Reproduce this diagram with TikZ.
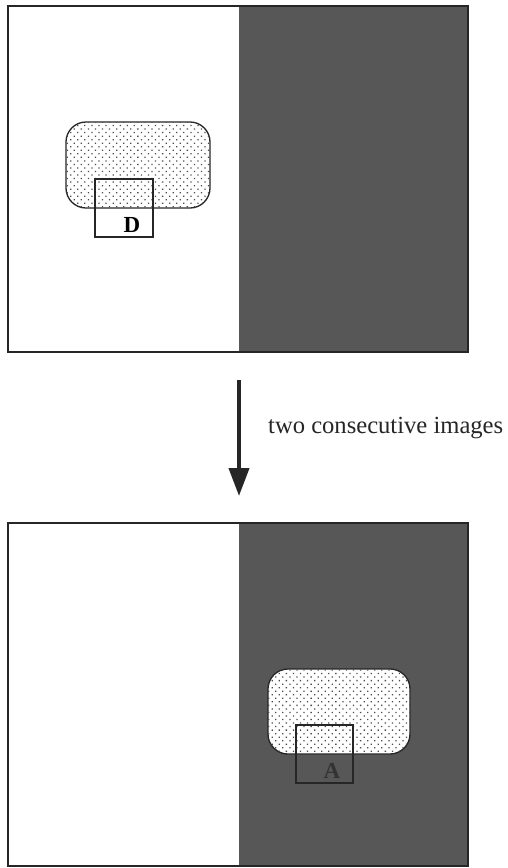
\documentclass[tikz,border=0pt]{standalone}
\usepackage{fontspec}
\setmainfont{Liberation Serif}
\usetikzlibrary{arrows.meta,patterns.meta}
\begin{document}
\begin{tikzpicture}[x=1pt,y=-1pt,
  frame/.style={draw=black!85,line width=1.4pt},
  darkhalf/.style={fill=black!66},
  blob/.style={draw=black!85,line width=1.3pt,rounded corners=20pt,fill=white,
    postaction={pattern={Dots[distance=5pt,angle=45,radius=0.9pt]},pattern color=black!70}},
  window/.style={draw=black!85,line width=1.2pt},
  lbl/.style={font=\fontsize{23}{26}\selectfont\bfseries}]
\useasboundingbox (0,0) rectangle (508,868);
\fill[white] (0,0) rectangle (508,868);

% first image: target in the bright half
\fill[darkhalf] (239,6) rectangle (468,352);
\draw[frame] (8,6) rectangle (468,352);
\draw[blob] (66,122) rectangle (210,208);
\draw[window] (95,179) rectangle (153,237);
\node[lbl,anchor=base] (d) at (132,232) {D};

% transition arrow with caption
\coordinate (atop) at (239,380);
\coordinate (abot) at (239,496);
\draw[line width=4pt,black!85,-{Triangle[length=28pt,width=20pt]}] (atop) -- (abot);
\node[anchor=base west,inner sep=0pt,font=\fontsize{24.6}{30}\selectfont,text=black!85] (cap) at (268,433) {two consecutive images};

% second image: target moved into the dark half
\fill[darkhalf] (239,523) rectangle (468,866);
\draw[frame] (8,523) rectangle (468,866);
\draw[blob] (268,669) rectangle (410,754);
\draw[window] (296,725) rectangle (353,783);
\node[lbl,anchor=base,text=black!80] (a) at (332,778) {A};
\end{tikzpicture}
\end{document}
